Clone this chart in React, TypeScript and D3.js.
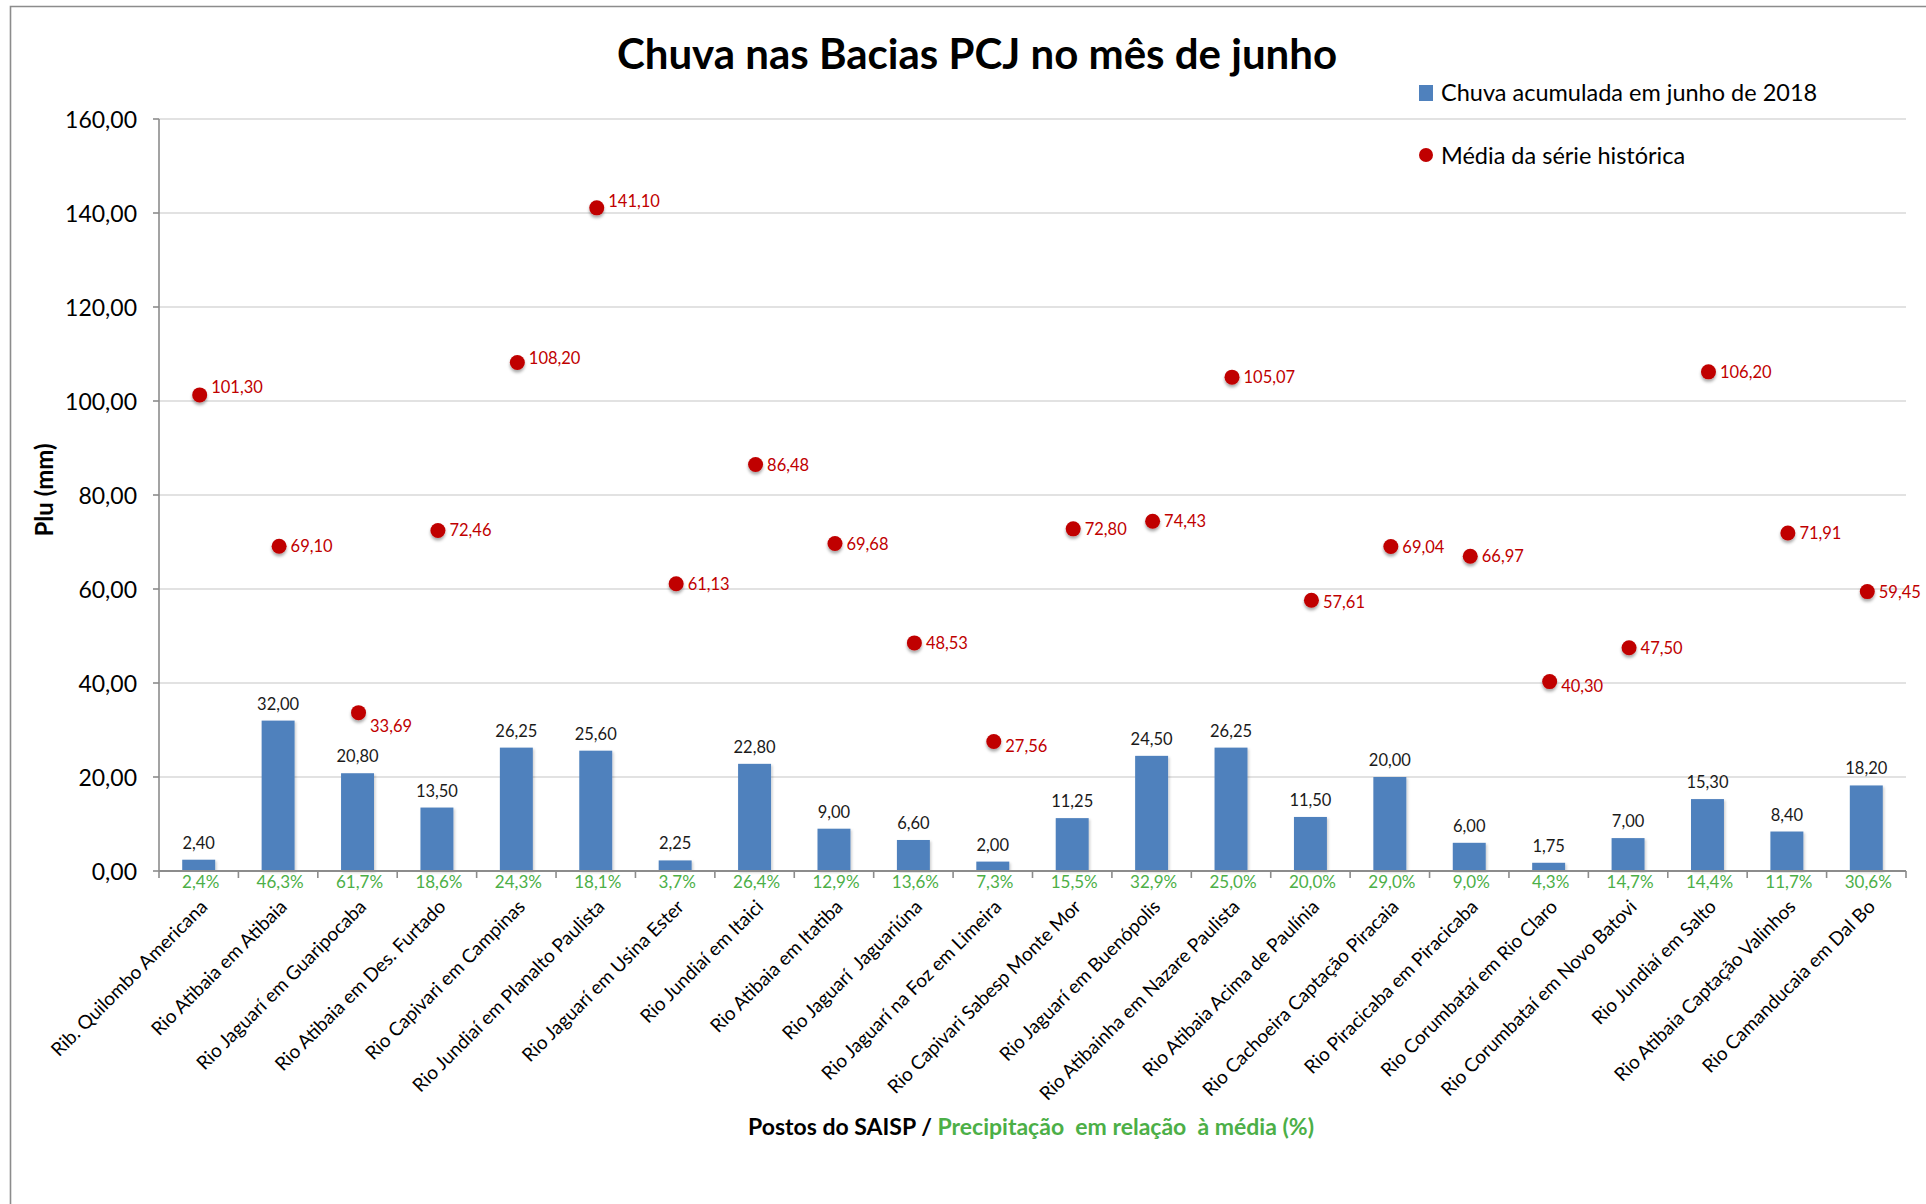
import React from "react";
import * as d3 from "d3";

const categories = [
  "Rib. Quilombo Americana",
  "Rio Atibaia em Atibaia",
  "Rio Jaguarí em Guaripocaba",
  "Rio Atibaia em Des. Furtado",
  "Rio Capivari em Campinas",
  "Rio Jundiaí em Planalto Paulista",
  "Rio Jaguarí em Usina Ester",
  "Rio Jundiaí em Itaici",
  "Rio Atibaia em Itatiba",
  "Rio Jaguarí  Jaguariúna",
  "Rio Jaguarí na Foz em Limeira",
  "Rio Capivari Sabesp Monte Mor",
  "Rio Jaguarí em Buenópolis",
  "Rio Atibainha em Nazare Paulista",
  "Rio Atibaia Acima de Paulínia",
  "Rio Cachoeira Captação Piracaia",
  "Rio Piracicaba em Piracicaba",
  "Rio Corumbataí em Rio Claro",
  "Rio Corumbataí em Novo Batovi",
  "Rio Jundiaí em Salto",
  "Rio Atibaia Captação Valinhos",
  "Rio Camanducaia em Dal Bo",
];

const rainJune2018 = [
  2.4, 32.0, 20.8, 13.5, 26.25, 25.6, 2.25, 22.8, 9.0, 6.6, 2.0, 11.25, 24.5,
  26.25, 11.5, 20.0, 6.0, 1.75, 7.0, 15.3, 8.4, 18.2,
];

const historicalMean = [
  101.3, 69.1, 33.69, 72.46, 108.2, 141.1, 61.13, 86.48, 69.68, 48.53, 27.56,
  72.8, 74.43, 105.07, 57.61, 69.04, 66.97, 40.3, 47.5, 106.2, 71.91, 59.45,
];

const percentOfMean = [
  "2,4%", "46,3%", "61,7%", "18,6%", "24,3%", "18,1%", "3,7%", "26,4%",
  "12,9%", "13,6%", "7,3%", "15,5%", "32,9%", "25,0%", "20,0%", "29,0%",
  "9,0%", "4,3%", "14,7%", "14,4%", "11,7%", "30,6%",
];

const yTicks = [0, 20, 40, 60, 80, 100, 120, 140, 160];

const title = "Chuva nas Bacias PCJ no mês de junho";
const legendBar = "Chuva acumulada em junho de 2018";
const legendDot = "Média da série histórica";
const yTitle = "Plu (mm)";
const xTitleA = "Postos do SAISP / ";
const xTitleB = "Precipitação  em relação  à média (%)";

// label placement for the mean-value labels (vertical nudge, px)
const meanLabelNudge: Record<number, number> = {
  0: -8, 2: 13, 4: -4, 5: -7, 10: 5, 14: 2, 17: 4,
};

const W = 1926;
const H = 1204;
const M = { left: 159, right: 1906, top: 119, bottom: 871 };
const FONT = "Lato, 'Open Sans', sans-serif";
const fmt = (v: number) => d3.format(".2f")(v).replace(".", ",");

export default function App() {
  const x = d3
    .scaleBand<string>()
    .domain(categories)
    .range([M.left, M.right])
    .paddingInner(0)
    .paddingOuter(0);
  const y = d3.scaleLinear().domain([0, 160]).range([M.bottom, M.top]);
  const bw = x.bandwidth() * 0.415;
  const cx = (c: string) => (x(c) as number) + x.bandwidth() / 2;

  const red = "#c00000";
  const blue = "#4f81bd";
  const green = "#4caf47";

  return (
    <svg
      width={W}
      height={H}
      style={{ position: "absolute", left: 0, top: 0, display: "block", background: "#fff" }}
      fontFamily={FONT}
    >
      <defs>
        <filter id="dotShadow" x="-50%" y="-50%" width="200%" height="220%">
          <feDropShadow dx="0" dy="2.5" stdDeviation="1.6" floodColor="#000" floodOpacity="0.35" />
        </filter>
        <filter id="barShadow" x="-20%" y="-5%" width="150%" height="110%">
          <feDropShadow dx="1.5" dy="1.5" stdDeviation="1.2" floodColor="#000" floodOpacity="0.18" />
        </filter>
      </defs>
      <rect x={0} y={0} width={W} height={H} fill="#fff" />
      {/* chart frame */}
      <path d={`M${W + 5},6.5 H10.5 V${H + 5}`} fill="none" stroke="#8c8c8c" strokeWidth={1.6} />

      {/* title */}
      <text x={977} y={69} textAnchor="middle" fontSize={42} fontWeight={700} fill="#000">
        {title}
      </text>

      {/* gridlines */}
      {yTicks.map((t) => (
        <line
          key={"g" + t}
          x1={M.left}
          x2={M.right}
          y1={y(t)}
          y2={y(t)}
          stroke="#d9d9d9"
          strokeWidth={1.6}
        />
      ))}

      {/* y axis */}
      <line x1={M.left} x2={M.left} y1={M.top} y2={M.bottom} stroke="#8c8c8c" strokeWidth={1.6} />
      {yTicks.map((t) => (
        <g key={"yt" + t}>
          <line x1={M.left - 6} x2={M.left} y1={y(t)} y2={y(t)} stroke="#8c8c8c" strokeWidth={1.6} />
          <text
            x={M.left - 22}
            y={y(t)}
            textAnchor="end"
            dominantBaseline="central"
            fontSize={23}
            fill="#000"
          >
            {fmt(t)}
          </text>
        </g>
      ))}
      <text
        transform={`translate(43,490) rotate(-90)`}
        textAnchor="middle"
        dominantBaseline="central"
        fontSize={24}
        fontWeight={700}
      >
        {yTitle}
      </text>

      {/* bars */}
      {categories.map((c, i) => (
        <rect
          key={"b" + i}
          x={cx(c) - bw / 2}
          y={y(rainJune2018[i])}
          width={bw}
          height={y(0) - y(rainJune2018[i])}
          fill={blue}
          filter="url(#barShadow)"
        />
      ))}

      {/* x axis */}
      <line x1={M.left} x2={M.right} y1={M.bottom} y2={M.bottom} stroke="#8c8c8c" strokeWidth={2} />
      {[...categories.map((c) => x(c) as number), M.right].map((px, i) => (
        <line
          key={"xt" + i}
          x1={px}
          x2={px}
          y1={M.bottom}
          y2={M.bottom + 7}
          stroke="#8c8c8c"
          strokeWidth={1.6}
        />
      ))}

      {/* bar value labels */}
      {categories.map((c, i) => (
        <text
          key={"bl" + i}
          x={cx(c)}
          y={y(rainJune2018[i]) - 11}
          textAnchor="middle"
          fontSize={16.5}
          fill="#1a1a1a"
        >
          {fmt(rainJune2018[i])}
        </text>
      ))}

      {/* percent labels */}
      {categories.map((c, i) => (
        <text
          key={"pl" + i}
          x={cx(c) + 2}
          y={M.bottom + 17}
          textAnchor="middle"
          fontSize={17}
          fill={green}
        >
          {percentOfMean[i]}
        </text>
      ))}

      {/* category labels */}
      {categories.map((c, i) => (
        <text
          key={"cl" + i}
          transform={`translate(${cx(c) + 10},${M.bottom + 37}) rotate(-45)`}
          textAnchor="end"
          fontSize={19}
          fill="#000"
          style={{ whiteSpace: "pre" }}
        >
          {c}
        </text>
      ))}

      {/* mean dots */}
      {categories.map((c, i) => (
        <circle
          key={"d" + i}
          cx={cx(c) + 1}
          cy={y(historicalMean[i])}
          r={7.5}
          fill={red}
          filter="url(#dotShadow)"
        />
      ))}
      {categories.map((c, i) => (
        <text
          key={"dl" + i}
          x={cx(c) + 12.5}
          y={y(historicalMean[i]) + (meanLabelNudge[i] ?? 0)}
          dominantBaseline="central"
          fontSize={16.5}
          fill={red}
        >
          {fmt(historicalMean[i])}
        </text>
      ))}

      {/* x title */}
      <text x={1031} y={1135} textAnchor="middle" fontSize={23} fontWeight={700} style={{ whiteSpace: "pre" }}>
        <tspan fill="#000">{xTitleA}</tspan>
        <tspan fill={green}>{xTitleB}</tspan>
      </text>

      {/* legend */}
      <rect x={1419} y={85} width={14} height={16} fill={blue} />
      <text x={1441} y={101} fontSize={23.5} fill="#000">
        {legendBar}
      </text>
      <circle cx={1426} cy={155} r={7} fill={red} />
      <text x={1441} y={164} fontSize={23.5} fill="#000">
        {legendDot}
      </text>
    </svg>
  );
}
